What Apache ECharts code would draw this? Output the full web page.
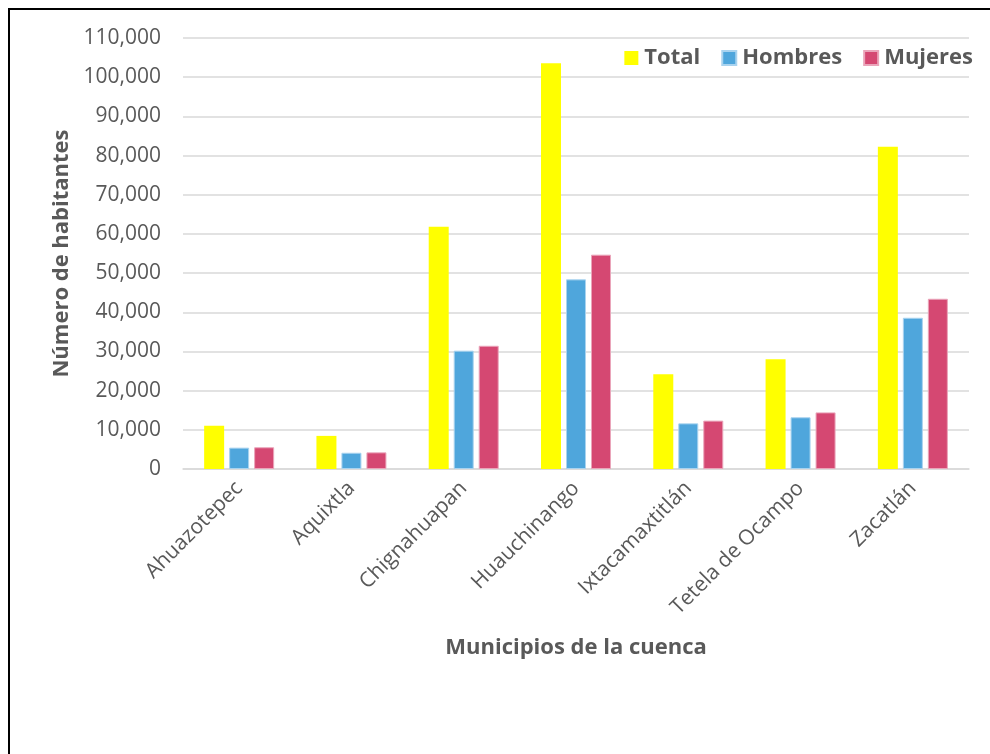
<!DOCTYPE html>
<html>
<head>
<meta charset="utf-8">
<script src="https://cdn.jsdelivr.net/npm/echarts@6/dist/echarts.min.js"></script>
<style>
html,body{margin:0;padding:0;background:#fff;}
#chart{width:990px;height:754px;}
</style>
</head>
<body>
<div id="chart"></div>
<script>
var categories = ['Ahuazotepec','Aquixtla','Chignahuapan','Huauchinango','Ixtacamaxtitlán','Tetela de Ocampo','Zacatlán'];
var total = [11050, 8450, 61800, 103550, 24200, 28000, 82250];
var hombres = [5450, 4150, 30200, 48400, 11650, 13200, 38600];
var mujeres = [5550, 4250, 31450, 54700, 12350, 14450, 43450];
var yTicks = {min: 0, max: 110000, interval: 10000};

var fontFam = '"Open Sans", "Noto Sans", sans-serif';
var chart = echarts.init(document.getElementById('chart'), null, {renderer: 'canvas'});
function fmt(v){ return String(v).replace(/\B(?=(\d{3})+(?!\d))/g, ','); }
chart.setOption({
  backgroundColor: '#fff',
  animation: false,
  graphic: [{
    type: 'rect', silent: true,
    shape: {x: 9, y: 9, width: 1000, height: 800},
    style: {fill: 'none', stroke: '#000', lineWidth: 2}
  }],
  legend: {
    right: 12, top: 42,
    itemWidth: 14, itemHeight: 14, itemGap: 21,
    icon: 'rect',
    textStyle: {fontFamily: fontFam, fontWeight: 'bold', fontSize: 22, color: '#595959', padding: [0,0,0,1]},
    data: ['Total','Hombres','Mujeres']
  },
  grid: {left: 183, right: 21, top: 38, bottom: 285, containLabel: false},
  xAxis: {
    type: 'category',
    data: categories,
    name: 'Municipios de la cuenca',
    nameLocation: 'middle',
    nameGap: 168,
    nameTextStyle: {fontFamily: fontFam, fontWeight: 'bold', fontSize: 22, color: '#595959'},
    axisLine: {lineStyle: {color: '#d9d9d9', width: 1.5}},
    axisTick: {show: false},
    axisLabel: {rotate: 45, margin: 16, fontFamily: fontFam, fontSize: 21, color: '#595959'}
  },
  yAxis: {
    type: 'value',
    min: yTicks.min, max: yTicks.max, interval: yTicks.interval,
    name: 'Número de habitantes',
    nameLocation: 'middle',
    nameGap: 106,
    nameTextStyle: {fontFamily: fontFam, fontWeight: 'bold', fontSize: 22, color: '#595959'},
    axisLine: {show: false},
    axisTick: {show: false},
    splitLine: {lineStyle: {color: '#d9d9d9', width: 1.5}},
    axisLabel: {margin: 22, fontFamily: fontFam, fontSize: 21, color: '#595959', formatter: fmt}
  },
  series: [
    {name: 'Total', type: 'bar', data: total, barWidth: 20, barGap: '25%',
     itemStyle: {color: '#FFFF00'}},
    {name: 'Hombres', type: 'bar', data: hombres, barWidth: 20, barGap: '25%',
     itemStyle: {color: '#4FA6DC', borderColor: '#a9d3ef', borderWidth: 1}},
    {name: 'Mujeres', type: 'bar', data: mujeres, barWidth: 20, barGap: '25%',
     itemStyle: {color: '#D54872', borderColor: '#eaa5ba', borderWidth: 1}}
  ]
});
</script>
</body>
</html>
